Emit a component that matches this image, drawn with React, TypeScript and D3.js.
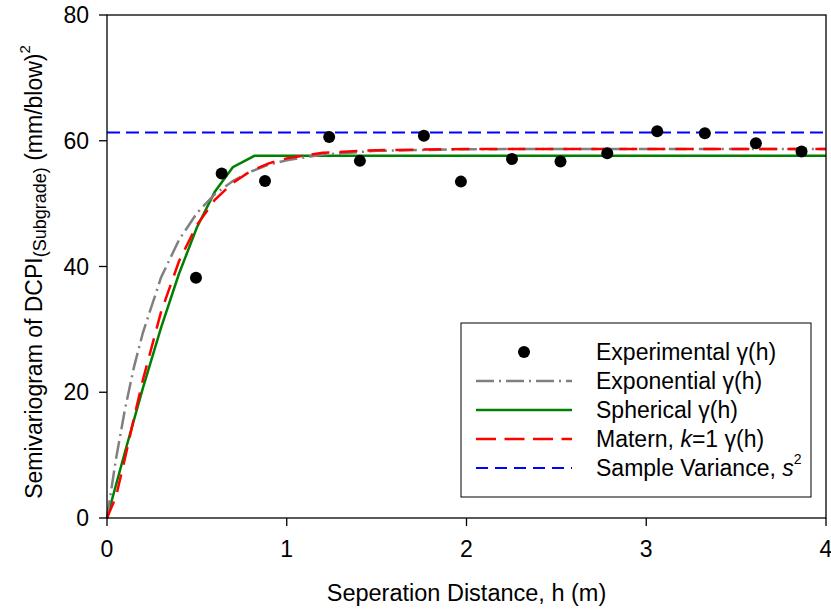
import React from "react";
import * as d3 from "d3";

const expLag = [0.495, 0.638, 0.879, 1.236, 1.407, 1.763, 1.969, 2.253, 2.523, 2.783, 3.061, 3.326, 3.61, 3.864];
const expGamma = [38.2, 54.8, 53.6, 60.6, 56.8, 60.8, 53.5, 57.1, 56.7, 58.0, 61.5, 61.2, 59.6, 58.3];

const sphH = [0, 0.1, 0.2, 0.3, 0.4, 0.5, 0.6, 0.7, 0.82, 4];
const sphGamma = [0, 10.5, 20.7, 30.2, 38.8, 46.2, 51.9, 55.8, 57.6, 57.6];

const expoH = [0, 0.05, 0.1, 0.15, 0.2, 0.3, 0.4, 0.5, 0.6, 0.7, 0.8, 0.9, 1.0, 1.2, 1.5, 2, 2.5, 3, 4];
const expoGamma = [0, 9.4, 17.3, 24.0, 29.5, 38.2, 44.2, 48.5, 51.5, 53.6, 55.1, 56.2, 56.9, 57.8, 58.4, 58.65, 58.7, 58.7, 58.7];

const matH = [0, 0.05, 0.1, 0.15, 0.2, 0.3, 0.4, 0.5, 0.6, 0.7, 0.8, 0.9, 1.0, 1.2, 1.5, 2, 2.5, 3, 4];
const matGamma = [0, 3.4, 9.5, 15.9, 22.0, 32.7, 40.8, 46.6, 50.6, 53.3, 55.2, 56.4, 57.2, 58.1, 58.5, 58.7, 58.7, 58.7, 58.7];

const sampleVariance = 61.3;

const xTicks = [0, 1, 2, 3, 4];
const yTicks = [0, 20, 40, 60, 80];

const FONT = "Arial, 'Liberation Sans', sans-serif";
const FS = 23;

export default function App() {
  const left = 107, right = 826, top = 15, bottom = 518;
  const x = d3.scaleLinear().domain([0, 4]).range([left, right]);
  const y = d3.scaleLinear().domain([0, 80]).range([bottom, top]);

  const line = d3.line<[number, number]>().x(d => x(d[0])).y(d => y(d[1]));
  const pts = (hs: number[], gs: number[]) => hs.map((h, i) => [h, gs[i]] as [number, number]);

  const rowY = [352, 381, 410, 439, 468];
  const lx0 = 476, lx1 = 572, tx = 596;

  return (
    <svg width={831} height={611} style={{ position: "absolute", left: 0, top: 0, background: "#fff" }} fontFamily={FONT}>
      <rect x={0} y={0} width={831} height={611} fill="#fff" />
      <line x1={x(0)} x2={x(4)} y1={y(sampleVariance)} y2={y(sampleVariance)} stroke="#0000ff" strokeWidth={2} strokeDasharray="13,6" />
      <path d={line(pts(sphH, sphGamma)) || ""} fill="none" stroke="#008000" strokeWidth={2.5} />
      <path d={line(pts(expoH, expoGamma)) || ""} fill="none" stroke="#808080" strokeWidth={2.5} strokeDasharray="18,5,2,5" />
      <path d={line(pts(matH, matGamma)) || ""} fill="none" stroke="#ff0000" strokeWidth={2.5} strokeDasharray="18,10" />
      {expLag.map((h, i) => (
        <circle key={i} cx={x(h)} cy={y(expGamma[i])} r={6} fill="#000" />
      ))}
      <rect x={left} y={top} width={right - left} height={bottom - top} fill="none" stroke="#000" strokeWidth={1.3} />
      {xTicks.map(t => (
        <g key={t}>
          <line x1={x(t)} x2={x(t)} y1={bottom} y2={bottom + 8} stroke="#000" strokeWidth={1.3} />
          <text x={x(t)} y={549} textAnchor="middle" dominantBaseline="central" fontSize={FS}>{t}</text>
        </g>
      ))}
      {yTicks.map(t => (
        <g key={t}>
          <line x1={left - 8} x2={left} y1={y(t)} y2={y(t)} stroke="#000" strokeWidth={1.3} />
          <text x={89} y={y(t)} textAnchor="end" dominantBaseline="central" fontSize={FS}>{t}</text>
        </g>
      ))}
      <text x={(left + right) / 2} y={593} textAnchor="middle" dominantBaseline="central" fontSize={23.5}>
        Seperation Distance, h (m)
      </text>
      <text transform={`translate(34, 272) rotate(-90)`} textAnchor="middle" dominantBaseline="central" fontSize={FS}>
        Semivariogram of DCPI<tspan fontSize={18} dy={6}>(Subgrade)</tspan><tspan dy={-6}> (mm/blow)</tspan><tspan fontSize={15} dy={-10}>2</tspan>
      </text>
      <rect x={461} y={323} width={350} height={174} fill="#fff" stroke="#000" strokeWidth={1} />
      <circle cx={(lx0 + lx1) / 2} cy={rowY[0]} r={6} fill="#000" />
      <line x1={lx0} x2={lx1} y1={rowY[1]} y2={rowY[1]} stroke="#808080" strokeWidth={2.5} strokeDasharray="18,5,2,5" />
      <line x1={lx0} x2={lx1} y1={rowY[2]} y2={rowY[2]} stroke="#008000" strokeWidth={2.5} />
      <line x1={lx0} x2={lx1} y1={rowY[3]} y2={rowY[3]} stroke="#ff0000" strokeWidth={2.5} strokeDasharray="20,8.5" />
      <line x1={lx0} x2={lx1} y1={rowY[4]} y2={rowY[4]} stroke="#0000ff" strokeWidth={2} strokeDasharray="12,7" />
      <text x={tx} y={rowY[0]} dominantBaseline="central" fontSize={FS}>Experimental γ(h)</text>
      <text x={tx} y={rowY[1]} dominantBaseline="central" fontSize={FS}>Exponential γ(h)</text>
      <text x={tx} y={rowY[2]} dominantBaseline="central" fontSize={FS}>Spherical γ(h)</text>
      <text x={tx} y={rowY[3]} dominantBaseline="central" fontSize={FS}>Matern, <tspan fontStyle="italic">k</tspan>=1 γ(h)</text>
      <text x={tx} y={rowY[4]} dominantBaseline="central" fontSize={FS}>Sample Variance, <tspan fontStyle="italic">s</tspan><tspan fontSize={14} dy={-9}>2</tspan></text>
    </svg>
  );
}
